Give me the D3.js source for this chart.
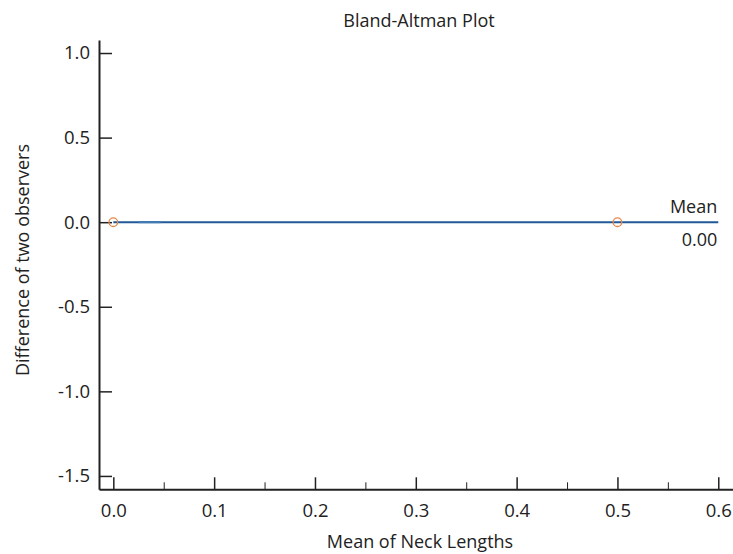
<!DOCTYPE html>
<html>
<head>
<meta charset="utf-8">
<script src="https://cdn.jsdelivr.net/npm/d3@7"></script>
<style>
  body { margin: 0; background: #fff; }
  svg text { font-family: "Open Sans", "Noto Sans", sans-serif; fill: #222; }
  .axis path, .axis line { stroke: #222; }
</style>
</head>
<body>
<svg id="chart"></svg>
<script>
// observations: mean of the two observers vs. their difference
const meanValues = [0.0, 0.5];
const diffValues = [0.0, 0.0];
const meanDiff = 0.0;
const meanLineExtent = [0.0, 0.6];
const faintSegment = [0.025, 0.047];

const xTicks = [0.0, 0.1, 0.2, 0.3, 0.4, 0.5, 0.6];
const xMinorTicks = [0.05, 0.15, 0.25, 0.35, 0.45, 0.55];
const yTicks = [1.0, 0.5, 0.0, -0.5, -1.0, -1.5];

const width = 733, height = 554;
const fmt1 = d => d3.format('.1f')(d).replace('\u2212', '-');

const svg = d3.select('#chart')
  .attr('width', width)
  .attr('height', height);

const x = d3.scaleLinear()
  .domain([-0.0142, 0.6146])
  .range([99, 733]);

const y = d3.scaleLinear()
  .domain([-1.579, 1.077])
  .range([489.3, 40]);

// title
svg.append('text')
  .attr('x', 419)
  .attr('y', 27)
  .attr('text-anchor', 'middle')
  .style('font-size', '18px')
  .text('Bland-Altman Plot');

// mean line
svg.append('line')
  .attr('x1', x(meanLineExtent[0]))
  .attr('x2', x(meanLineExtent[1]))
  .attr('y1', y(meanDiff))
  .attr('y2', y(meanDiff))
  .attr('stroke', '#1f5a96')
  .attr('stroke-width', 2);

svg.append('line')
  .attr('x1', x(faintSegment[0]))
  .attr('x2', x(faintSegment[1]))
  .attr('y1', y(meanDiff))
  .attr('y2', y(meanDiff))
  .attr('stroke', '#3f7ab5')
  .attr('stroke-width', 2);

// axes
svg.append('g')
  .attr('class', 'axis')
  .attr('transform', `translate(${x.range()[0]},0)`)
  .call(d3.axisLeft(y).tickValues(yTicks).tickSizeInner(-13).tickSizeOuter(0)
    .tickPadding(9).tickFormat(fmt1))
  .call(g => g.selectAll('text').style('font-size', '18.5px'))
  .call(g => g.select('.domain').attr('stroke-width', 2))
  .call(g => g.selectAll('.tick line').attr('stroke-width', 1.5));

svg.append('g')
  .attr('class', 'axis')
  .attr('transform', `translate(0,${y.range()[0]})`)
  .call(d3.axisBottom(x).tickValues(xMinorTicks).tickSizeInner(-7).tickSizeOuter(0).tickFormat(''))
  .call(g => g.select('.domain').remove())
  .call(g => g.selectAll('.tick line').attr('stroke', '#666'));

svg.append('g')
  .attr('class', 'axis')
  .attr('transform', `translate(0,${y.range()[0]})`)
  .call(d3.axisBottom(x).tickValues(xTicks).tickSizeInner(-12).tickSizeOuter(0)
    .tickPadding(15).tickFormat(fmt1))
  .call(g => g.selectAll('text').style('font-size', '18.5px'))
  .call(g => g.select('.domain').attr('stroke-width', 2))
  .call(g => g.selectAll('.tick line').attr('stroke-width', 1.5));

// points
svg.selectAll('.pt')
  .data(meanValues)
  .join('circle')
  .attr('class', 'pt')
  .attr('cx', d => x(d))
  .attr('cy', (d, i) => y(diffValues[i]))
  .attr('r', 4.3)
  .attr('fill', 'none')
  .attr('stroke', '#e8884a')
  .attr('stroke-width', 1.3);

// mean labels
svg.append('text')
  .attr('x', x(meanLineExtent[1]) - 1)
  .attr('y', y(meanDiff) - 9)
  .attr('text-anchor', 'end')
  .style('font-size', '18px')
  .text('Mean');

svg.append('text')
  .attr('x', x(meanLineExtent[1]) - 1)
  .attr('y', y(meanDiff) + 24)
  .attr('text-anchor', 'end')
  .style('font-size', '18px')
  .text(d3.format('.2f')(meanDiff));

// axis titles
svg.append('text')
  .attr('x', 420)
  .attr('y', 548)
  .attr('text-anchor', 'middle')
  .style('font-size', '18px')
  .text('Mean of Neck Lengths');

svg.append('text')
  .attr('transform', 'translate(29,260) rotate(-90)')
  .attr('text-anchor', 'middle')
  .style('font-size', '18px')
  .text('Difference of two observers');
</script>
</body>
</html>
